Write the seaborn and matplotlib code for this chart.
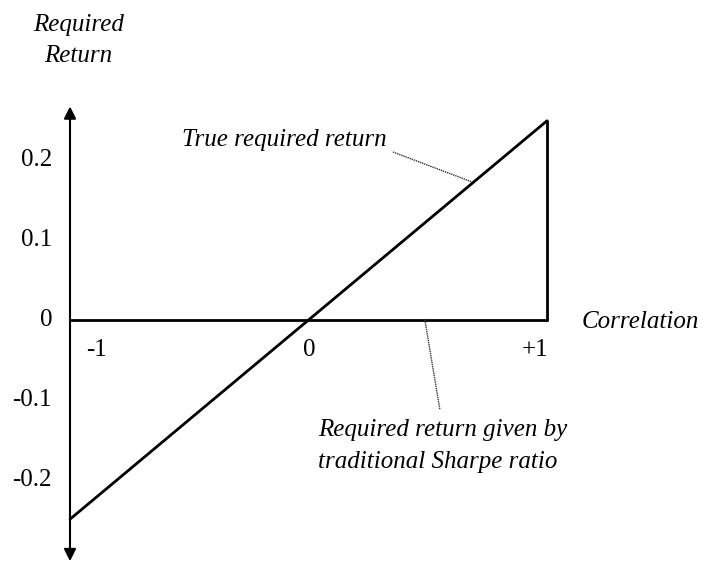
import matplotlib
matplotlib.use("Agg")
import numpy as np
import pandas as pd
import seaborn as sns
import matplotlib.pyplot as plt

sns.set_style("white")
plt.rcParams["font.family"] = ["Liberation Serif", "DejaVu Serif"]
plt.rcParams["text.color"] = "black"

# --------------------------
# Data
# --------------------------
correlation = [-1, 1]
true_return = [-0.249, 0.249]
sharpe_return = [0.0, 0.0]

y_tick_values = [0.2, 0.1, 0.0, -0.1, -0.2]
y_tick_labels = ["0.2", "0.1", "0", "-0.1", "-0.2"]
x_tick_values = [-0.887, 0.002, 0.95]
x_tick_labels = ["-1", "0", "+1"]

df_true = pd.DataFrame({"corr": correlation, "ret": true_return})
df_sharpe = pd.DataFrame({"corr": correlation, "ret": sharpe_return})

fig = plt.figure(figsize=(7.03, 5.62), dpi=100)
ax = fig.add_axes([0, 0, 1, 1])
ax.set_xlim(-1.2935, 1.654)
ax.set_ylim(-0.3025, 0.4)
ax.axis("off")

fs = 18

# --------------------------
# Lines
# --------------------------
sns.lineplot(data=df_true, x="corr", y="ret", color="black", lw=2, ax=ax)
sns.lineplot(data=df_sharpe, x="corr", y="ret", color="black", lw=2, ax=ax)
ax.plot([correlation[1], correlation[1]], [sharpe_return[1], true_return[1]],
        color="black", lw=2)

# vertical axis with arrow heads at both ends
ax.annotate("", xy=(-1, 0.267), xytext=(-1, 0.0),
            arrowprops=dict(arrowstyle="-|>", color="black", lw=1.5,
                            mutation_scale=18, shrinkA=0, shrinkB=0))
ax.annotate("", xy=(-1, -0.3015), xytext=(-1, 0.0),
            arrowprops=dict(arrowstyle="-|>", color="black", lw=1.5,
                            mutation_scale=18, shrinkA=0, shrinkB=0))

# --------------------------
# Tick labels
# --------------------------
for v, lab in zip(y_tick_values, y_tick_labels):
    ax.text(-1.075, v, lab, ha="right", va="center", fontsize=fs)
for v, lab in zip(x_tick_values, x_tick_labels):
    ax.text(v, -0.0375, lab, ha="center", va="center", fontsize=fs)

# --------------------------
# Labels and leaders
# --------------------------
ax.text(-0.966, 0.349, "Required\nReturn", ha="center", va="center",
        fontsize=fs, style="italic", linespacing=1.55)
ax.text(1.147, -0.0025, "Correlation", ha="left", va="center",
        fontsize=fs, style="italic")
ax.text(-0.53, 0.225, "True required return", ha="left", va="center",
        fontsize=fs, style="italic")
ax.plot([0.354, 0.686], [0.21, 0.1725], color="#333333", lw=1, ls=(0, (1, 0.6)))
ax.text(0.04, -0.1375, "Required return given by", ha="left", va="center",
        fontsize=fs, style="italic")
ax.text(0.04, -0.1775, "traditional Sharpe ratio", ha="left", va="center",
        fontsize=fs, style="italic")
ax.plot([0.488, 0.551], [0.0, -0.1125], color="#333333", lw=1, ls=(0, (1, 0.6)))

plt.savefig("out.png", dpi=100)
plt.close("all")
